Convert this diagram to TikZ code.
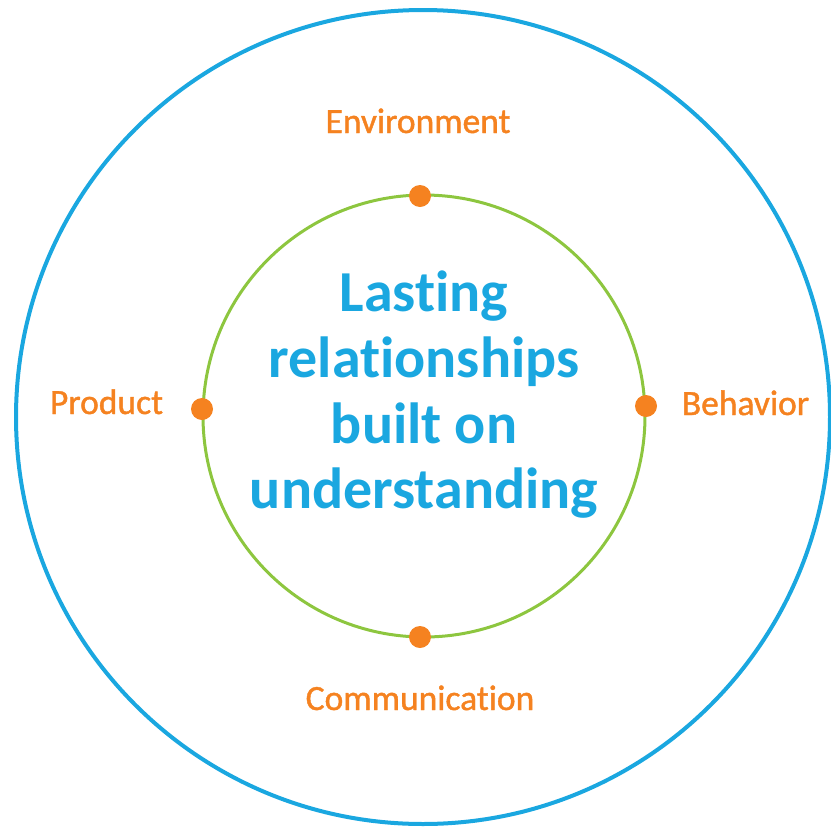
\documentclass[tikz,border=0pt]{standalone}
\usepackage{fontspec}
\setmainfont{Carlito}[Ligatures={NoCommon,NoRare},RawFeature={-liga;-clig;-dlig}]
\newfontfamily\lblfont{Carlito}[FakeBold=1.2,RawFeature={-liga;-clig;-dlig}]
\definecolor{cblue}{HTML}{1AA7E0}
\definecolor{corange}{HTML}{F58220}
\definecolor{cgreen}{HTML}{8DC63F}
\begin{document}
\begin{tikzpicture}[x=1pt,y=-1pt,
  lbl/.style={text=corange,font=\lblfont\fontsize{35.5}{40}\selectfont,anchor=base,inner sep=0pt},
  dotnode/.style={circle,fill=corange,minimum size=22pt,inner sep=0pt},
  ctr/.style={text=cblue,font=\bfseries\fontsize{58}{66}\selectfont,anchor=base,inner sep=0pt}]
\useasboundingbox (0,0) rectangle (831,828);
\draw[cblue,line width=4pt] (423,417) circle[radius=407];
\draw[cgreen,line width=3pt] (424,416) circle[radius=221];
\node[dotnode] (dE) at (420,196) {};
\node[dotnode] (dP) at (202,409) {};
\node[dotnode] (dB) at (646,406) {};
\node[dotnode] (dC) at (420,637) {};
\node[lbl] (env) at (418,133) {Environment};
\node[lbl] (prod) at (106.5,414) {Product};
\node[lbl] (beh) at (745.5,415) {Behavior};
\node[lbl] (comm) at (420,710) {Communication};
\node[ctr] (l1) at (424,311) {Lasting};
\node[ctr] (l2) at (424,377) {relationships};
\node[ctr] (l3) at (424,443) {built on};
\node[ctr] (l4) at (424,508) {understanding};
\end{tikzpicture}
\end{document}
